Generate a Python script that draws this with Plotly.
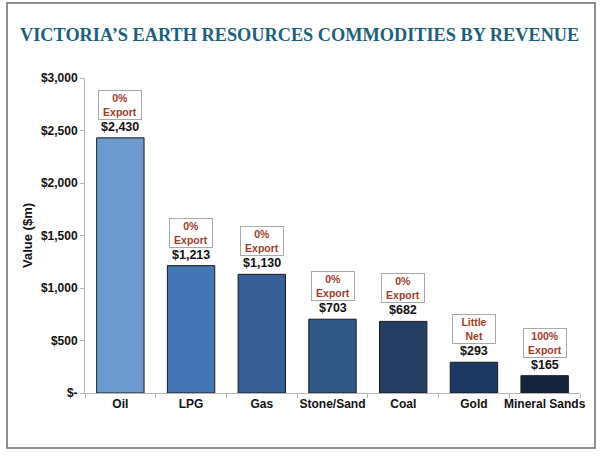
import plotly.graph_objects as go

categories = ["Oil", "LPG", "Gas", "Stone/Sand", "Coal", "Gold", "Mineral Sands"]
values = [2430, 1213, 1130, 703, 682, 293, 165]
value_labels = ["$2,430", "$1,213", "$1,130", "$703", "$682", "$293", "$165"]
notes = ["0%<br>Export", "0%<br>Export", "0%<br>Export", "0%<br>Export",
         "0%<br>Export", "Little<br>Net", "100%<br>Export"]
bar_colors = ["#6d9ace", "#4576b4", "#375f95", "#305887", "#243f63", "#1b3963", "#14243f"]
tick_vals = [0, 500, 1000, 1500, 2000, 2500, 3000]
tick_text = ["$-", "$500", "$1,000", "$1,500", "$2,000", "$2,500", "$3,000"]

L, R, T, B = 85, 20, 78, 66
W, H = 600, 459
pw, ph = W - L - R, H - T - B

def px(x):
    return (x - L) / pw

def py(y):
    return (H - B - y) / ph

fig = go.Figure()
fig.add_trace(go.Bar(
    x=categories, y=values,
    marker=dict(color=bar_colors, line=dict(color="#1a1a1a", width=1)),
    width=0.67,
    hoverinfo="skip",
))

annotations = []
for c, v, lab, n in zip(categories, values, value_labels, notes):
    annotations.append(dict(
        x=c, y=v, text="<b>" + lab + "</b>", showarrow=False, yanchor="bottom", yshift=2,
        font=dict(family="Liberation Sans, Arial", size=12.5, color="#111111"),
    ))
    annotations.append(dict(
        x=c, y=v, text="<b>" + n + "</b>", showarrow=False, yanchor="bottom", yshift=18,
        font=dict(family="Liberation Sans, Arial", size=10.5, color="#a33b2b"),
        bgcolor="white", bordercolor="#a8a8a8", borderwidth=1, borderpad=1,
        width=40,
    ))

annotations.append(dict(
    xref="paper", yref="paper", x=px(299), y=py(35),
    text="<b>VICTORIA’S EARTH RESOURCES COMMODITIES BY REVENUE</b>",
    showarrow=False, xanchor="center", yanchor="middle",
    font=dict(family="Liberation Serif, Times New Roman, serif", size=18.3, color="#1d5f7c"),
))

fig.update_layout(
    width=W, height=H,
    margin=dict(l=L, r=R, t=T, b=B),
    paper_bgcolor="white", plot_bgcolor="white",
    showlegend=False,
    annotations=annotations,
    shapes=[dict(type="rect", xref="paper", yref="paper",
                 x0=px(7), x1=px(595), y0=py(448), y1=py(3),
                 line=dict(color="#6b6b6b", width=1.5), fillcolor="rgba(0,0,0,0)",
                 layer="below")],
    xaxis=dict(
        automargin=False, tickangle=0,
        showline=True, linecolor="#b5b5b5", linewidth=1,
        ticks="outside", tickson="boundaries", ticklen=4, tickcolor="#b5b5b5",
        tickfont=dict(family="Liberation Sans, Arial", size=12, color="#111111"),
        tickprefix="<b>", ticksuffix="</b>",
        showgrid=False,
    ),
    yaxis=dict(
        automargin=False,
        range=[0, 3000], tickvals=tick_vals, ticktext=["<b>" + t + "</b>" for t in tick_text],
        showline=True, linecolor="#b5b5b5", linewidth=1,
        ticks="outside", ticklen=4, tickcolor="#b5b5b5",
        tickfont=dict(family="Liberation Sans, Arial", size=12, color="#111111"),
        showgrid=False, zeroline=False,
        title=dict(text="<b>Value ($m)</b>", standoff=5,
                   font=dict(family="Liberation Sans, Arial", size=13, color="#111111")),
    ),
)

fig.write_html(
    "out.html",
    config={"displayModeBar": False},
    post_script="document.body.style.margin='0';document.body.style.overflow='hidden';",
)
